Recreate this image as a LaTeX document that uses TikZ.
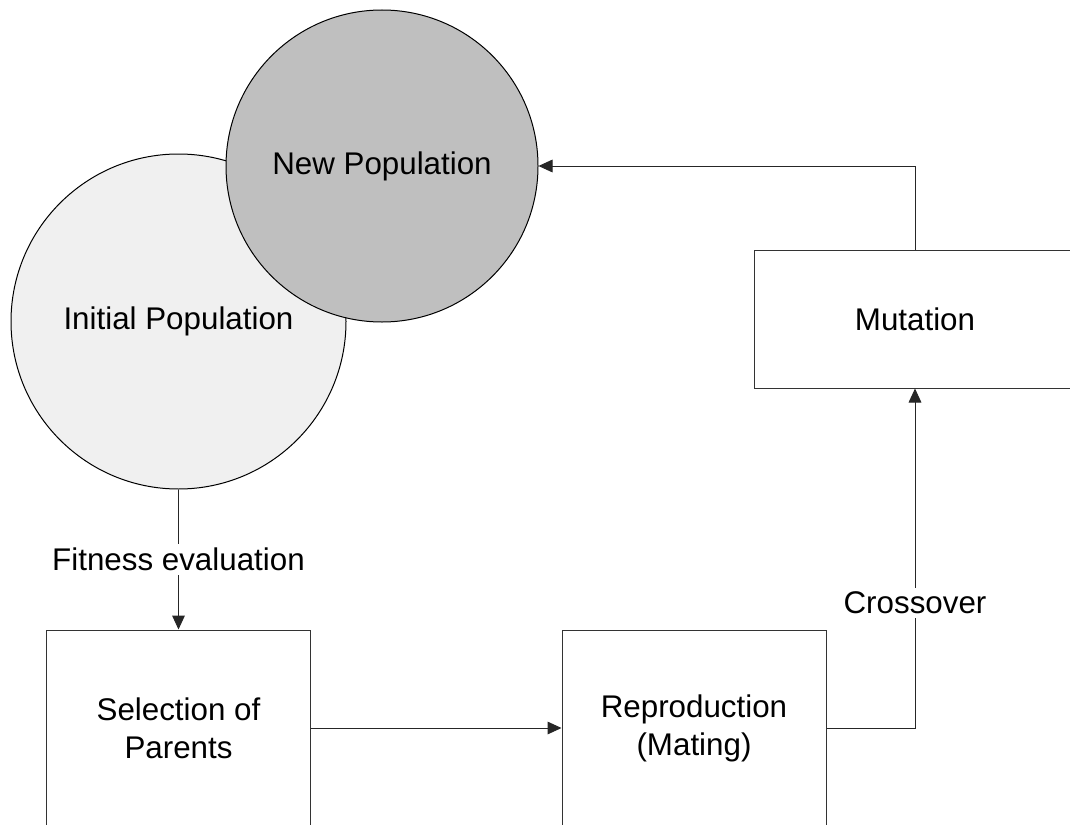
\documentclass[tikz,border=0pt]{standalone}
\usepackage{fontspec}
\setmainfont{Liberation Sans}
\usetikzlibrary{arrows.meta}
\tikzset{
  popcircle/.style={circle, draw=black, line width=0.75pt, inner sep=0pt, font=\fontsize{23.5}{28.5}\selectfont},
  stagebox/.style={rectangle, draw=black!80, line width=0.75pt, inner sep=0pt, minimum width=198pt, minimum height=147pt, align=center, font=\fontsize{23.5}{28.5}\selectfont},
  flow/.style={draw=black!85, line width=0.75pt, -{Triangle[length=10.5pt,width=9.5pt]}},
  flowlabel/.style={fill=white, inner sep=3pt, font=\fontsize{23.5}{28.5}\selectfont}
}
\begin{document}
\begin{tikzpicture}[x=0.75pt, y=-0.75pt]
  \useasboundingbox (0,0) rectangle (1070,824);
  \clip (0,0) rectangle (1070,824);
  \fill[white] (0,0) rectangle (1070,824);

  % population circles
  \node[popcircle, fill=black!6, minimum size=251.25pt] (init) at (178.5,321.5) {Initial Population};
  \node[popcircle, fill=black!25, minimum size=234pt] (newp) at (382,166) {New Population};

  % stage boxes
  \node[stagebox] (sel) at (178.5,728) {Selection of\\Parents};
  \node[stagebox] (rep) at (694,728) {Reproduction\\(Mating)};
  \node[stagebox, minimum width=241.5pt, minimum height=103.5pt] (mut) at (915,319) {Mutation};

  % connectors
  \draw[flow] (init.south) -- node[flowlabel] {Fitness evaluation} (sel.north);
  \draw[flow] (sel.east) -- (rep.west);
  \draw[flow] (rep.east) -| node[flowlabel, pos=0.684] {Crossover} (mut.south);
  \draw[flow] (mut.north) |- (newp.east);
\end{tikzpicture}
\end{document}
